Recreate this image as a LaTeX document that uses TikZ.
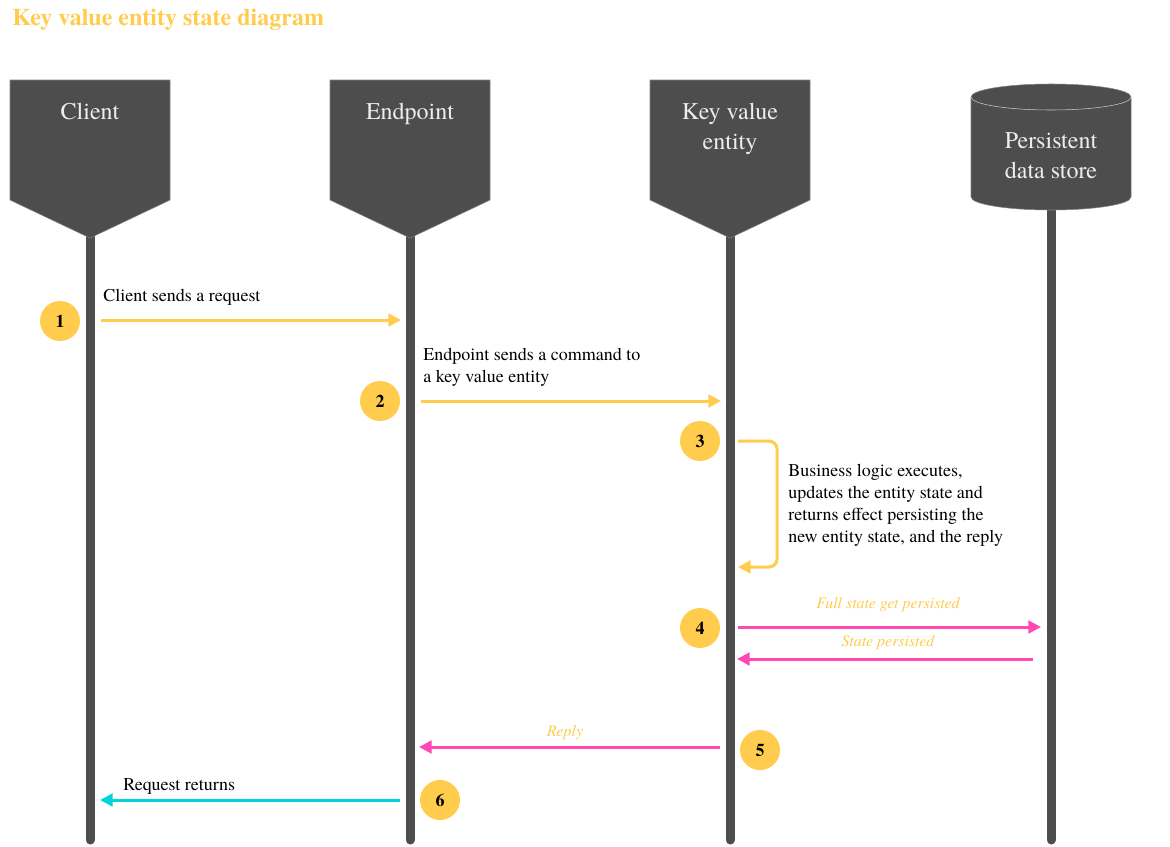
\documentclass[tikz,border=0pt]{standalone}
\usepackage{fontspec}
\setmainfont{TeX Gyre Termes}
\usetikzlibrary{arrows.meta}
\definecolor{kvyellow}{HTML}{FFCC4D}
\definecolor{kvpink}{HTML}{FF47B5}
\definecolor{kvcyan}{HTML}{00D4DC}
\definecolor{kvgray}{HTML}{4D4D4D}

\begin{document}
\begin{tikzpicture}[x=0.75pt, y=-0.75pt,
  lifeline/.style={kvgray, line width=6.75pt, line cap=round},
  head/.style={fill=kvgray, draw=kvgray!70},
  headtext/.style={text=white!93!black, font=\fontsize{18}{22.5}\selectfont, align=center, inner sep=0pt, anchor=base},
  stepnum/.style={circle, fill=kvyellow, minimum size=30pt, inner sep=0pt, font=\fontsize{13.5}{16}\selectfont\bfseries},
  msg/.style={line width=2.25pt, -{Triangle[length=9.5pt, width=9.5pt]}},
  note/.style={font=\fontsize{13.5}{16.5}\selectfont, align=left, inner sep=0pt},
  inote/.style={text=kvyellow, font=\fontsize{12}{14}\selectfont\itshape, inner sep=0pt}]
  \useasboundingbox[fill=white] (0,0) rectangle (1170,846);

  % title
  \node[anchor=west, inner sep=0pt, text=kvyellow, font=\fontsize{18}{22}\selectfont\bfseries] (title) at (12,20) {Key value entity state diagram};

  % lifelines
  \foreach \x in {90,410,730,1051} {
    \draw[lifeline] (\x,205) -- (\x,840);
  }

  % heads
  \foreach \x in {90,410,730} {
    \filldraw[head] (\x-80,80) -- (\x+80,80) -- (\x+80,200) -- (\x,238) -- (\x-80,200) -- cycle;
  }
  \filldraw[head] (971,97) -- (971,197) arc (180:0:80 and 13) -- (1131,97) arc (0:-180:80 and 13) -- cycle;
  \draw[white!80!black, thin] (971,97) arc (180:0:80 and 13);

  \node[headtext] (client) at (90,119) {Client};
  \node[headtext] (endpoint) at (410,119) {Endpoint};
  \node[headtext] (kve) at (730,149) {Key value\\entity};
  \node[headtext] (store) at (1051,178) {Persistent\\data store};

  % steps
  \node[stepnum] (s1) at (60,321) {1};
  \node[stepnum] (s2) at (380,401) {2};
  \node[stepnum] (s3) at (700,441) {3};
  \node[stepnum] (s4) at (700,628) {4};
  \node[stepnum] (s5) at (760,750) {5};
  \node[stepnum] (s6) at (440,800) {6};

  \coordinate (a1) at (101,320);  \coordinate (b1) at (401,320);
  \coordinate (a2) at (421,401);  \coordinate (b2) at (721,401);
  \coordinate (a3) at (738,441);  \coordinate (b3) at (738,567);
  \coordinate (a4) at (738,627);  \coordinate (b4) at (1041,627);
  \coordinate (a4r) at (1033,659); \coordinate (b4r) at (737,659);
  \coordinate (a5) at (720,747);  \coordinate (b5) at (419,747);
  \coordinate (a6) at (400,800);  \coordinate (b6) at (100,800);

  % messages
  \draw[msg, kvyellow] (a1) -- (b1);
  \draw[msg, kvyellow] (a2) -- (b2);
  \draw[msg, kvyellow, rounded corners=6pt] (a3) -- (777,441) -- (777,567) -- (b3);
  \draw[msg, kvpink] (a4) -- (b4);
  \draw[msg, kvpink] (a4r) -- (b4r);
  \draw[msg, kvpink] (a5) -- (b5);
  \draw[msg, kvcyan] (a6) -- (b6);

  \node[note, anchor=west] (n1) at (103,297) {Client sends a request};
  \node[note, anchor=west] (n2) at (423,367) {Endpoint sends a command to\\a key value entity};
  \node[note, anchor=west] (n3) at (788,505) {Business logic executes,\\updates the entity state and\\returns effect persisting the\\new entity state, and the reply};
  \node[inote] (n4) at (888,605) {Full state get persisted};
  \node[inote] (n4r) at (888,643) {State persisted};
  \node[inote] (n5) at (565,733) {Reply};
  \node[note, anchor=west] (n6) at (123,786) {Request returns};
\end{tikzpicture}
\end{document}
